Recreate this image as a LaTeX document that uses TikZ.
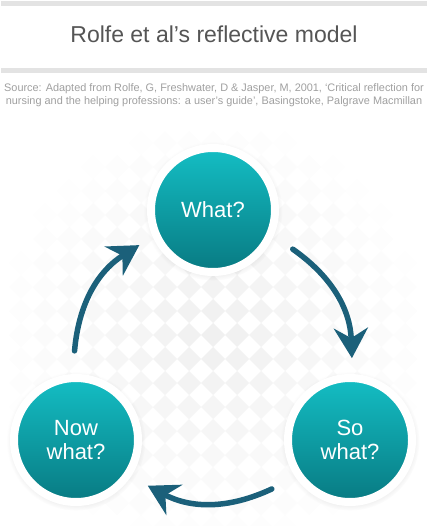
\documentclass[tikz,border=0pt]{standalone}
\usepackage{fontspec}
\setmainfont{Liberation Sans}
\usetikzlibrary{arrows.meta,calc,shadows}
\definecolor{tealtop}{RGB}{20,190,196}
\definecolor{tealbot}{RGB}{8,122,130}
\definecolor{arrowblue}{RGB}{27,96,122}
\definecolor{barcol}{RGB}{227,227,227}
\definecolor{titlecol}{RGB}{85,85,85}
\definecolor{srccol}{RGB}{160,160,160}

\begin{document}
\begin{tikzpicture}[x=1pt,y=1pt,
  stage/.style={circle,minimum size=124pt,inner sep=0pt,top color=tealtop,bottom color=tealbot,
    draw=white,line width=8pt,text=white,align=center,font=\fontsize{22}{24}\selectfont,
    circular drop shadow={shadow xshift=0pt,shadow yshift=-1pt,shadow scale=1.12,opacity=.2}},
  cycle arrow/.style={draw=arrowblue,line width=5.5pt,line cap=round,
    -{Stealth[length=30pt,width=34pt,inset=10pt]}},
  tile/.style={fill=black!6},
  bar/.style={fill=barcol},
  title/.style={font=\fontsize{23}{28}\selectfont,text=titlecol,anchor=base},
  source/.style={font=\fontsize{10.9}{13}\selectfont,text=srccol,align=center}]

\fill[white] (0,0) rectangle (428,-526);
\useasboundingbox (0,0) rectangle (428,-526);

\fill[bar] (1,-1) rectangle (427,-6);
\fill[bar] (1,-68) rectangle (427,-73);
\node[title] (title) at (214,-43) {Rolfe et al’s reflective model};
\node[source] (source) at (214,-95) {Source: Adapted from Rolfe, G, Freshwater, D \& Jasper, M, 2001, ‘Critical reflection for\\nursing and the helping professions: a user’s guide’, Basingstoke, Palgrave Macmillan};

\foreach \i in {-9,...,9}{
  \foreach \j in {-8,...,8}{
    \pgfmathsetmacro\op{max(0,1-veclen(\i*24,\j*24)/215)}
    \fill[tile,fill opacity=\op] (213+\i*24,-335-\j*24) +(12,0) -- +(0,12) -- +(-12,0) -- +(0,-12) -- cycle;
  }
}

\node[stage] (what) at (213,-210) {What?};
\node[stage] (sowhat) at (350,-440) {So\\what?};
\node[stage] (nowwhat) at (76,-440) {Now\\what?};

\coordinate (hub) at (213,-363);
\coordinate (a1) at ($(hub)+(55:139)$);
\coordinate (b1) at ($(hub)+(2:139)$);
\coordinate (a2) at ($(hub)+(-65:139)$);
\coordinate (b2) at ($(hub)+(-118:139)$);
\coordinate (a3) at ($(hub)+(175:139)$);
\coordinate (b3) at ($(hub)+(122:139)$);
\draw[cycle arrow] (a1) to[bend left=26.5] (b1);
\draw[cycle arrow] (a2) to[bend left=26.5] (b2);
\draw[cycle arrow] (a3) to[bend left=26.5] (b3);
\end{tikzpicture}
\end{document}
